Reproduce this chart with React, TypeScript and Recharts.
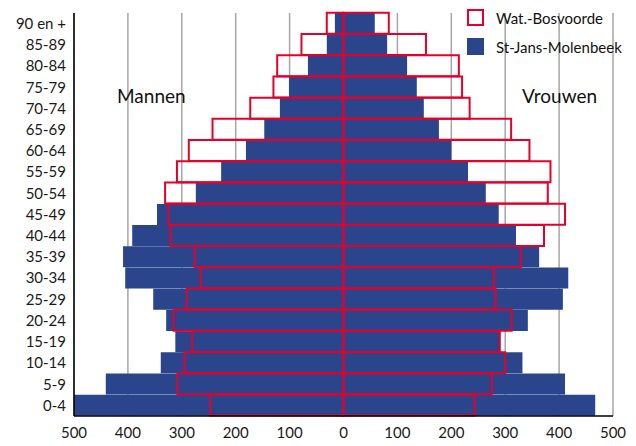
import React from 'react'
import { BarChart, Bar, XAxis, YAxis, CartesianGrid } from 'recharts'

// age groups, bottom to top
const ageGroups = [
  '0-4', '5-9', '10-14', '15-19', '20-24', '25-29', '30-34', '35-39', '40-44', '45-49',
  '50-54', '55-59', '60-64', '65-69', '70-74', '75-79', '80-84', '85-89', '90 en +',
]

const molenbeekMen = [500, 441, 339, 312, 329, 353, 405, 409, 392, 346, 274, 227, 181, 147, 118, 101, 66, 31, 16]
const molenbeekWomen = [467, 411, 332, 289, 342, 407, 417, 363, 320, 288, 264, 231, 200, 177, 149, 136, 118, 81, 58]
const bosvoordeMen = [247, 308, 295, 281, 315, 291, 265, 276, 321, 325, 331, 309, 287, 243, 173, 130, 123, 78, 31]
const bosvoordeWomen = [243, 275, 300, 290, 312, 282, 279, 329, 372, 411, 379, 384, 345, 311, 234, 220, 214, 153, 84]

const xTicks = [-500, -400, -300, -200, -100, 0, 100, 200, 300, 400, 500]

const BOSVOORDE = 'Wat.-Bosvoorde'
const MOLENBEEK = 'St-Jans-Molenbeek'
const BLUE = '#2B458C'
const RED = '#E4002B'
const FONT = 'Lato, "Open Sans", sans-serif'

const data = ageGroups.map((age, i) => ({
  age,
  molMen: -molenbeekMen[i],
  molWomen: molenbeekWomen[i],
  bosMen: -bosvoordeMen[i],
  bosWomen: bosvoordeWomen[i],
}))

const tickStyle = { fontFamily: FONT, fontSize: 15, fill: '#1a1a1a' }

const App: React.FC = () => {
  return (
    <div style={{ position: 'absolute', left: 0, top: 0, width: 636, height: 446, background: '#fff' }}>
      <BarChart
        width={636}
        height={446}
        data={data}
        layout="vertical"
        stackOffset="sign"
        barCategoryGap={0}
        barGap="-100%"
        margin={{ top: 13, right: 23, bottom: 0, left: 0 }}
      >
        <CartesianGrid horizontal={false} vertical stroke="#A6A6A6" strokeWidth={1.5} />
        <XAxis
          type="number"
          domain={[-500, 500]}
          ticks={xTicks}
          tickFormatter={(v: number) => String(Math.abs(v))}
          tickLine={false}
          tickMargin={5}
          axisLine={{ stroke: '#000', strokeWidth: 1.5 }}
          tick={tickStyle}
          height={30}
        />
        <YAxis
          type="category"
          dataKey="age"
          reversed
          width={74}
          tickLine={false}
          axisLine={{ stroke: '#000', strokeWidth: 1.5 }}
          tick={tickStyle}
          interval={0}
        />
        <Bar dataKey="molMen" stackId="mol" name={MOLENBEEK} fill={BLUE} isAnimationActive={false} />
        <Bar dataKey="molWomen" stackId="mol" name={MOLENBEEK} fill={BLUE} isAnimationActive={false} />
        <Bar dataKey="bosMen" stackId="bos" name={BOSVOORDE} fill="none" stroke={RED} strokeWidth={2} isAnimationActive={false} />
        <Bar dataKey="bosWomen" stackId="bos" name={BOSVOORDE} fill="none" stroke={RED} strokeWidth={2} isAnimationActive={false} />
      </BarChart>

      <div style={{ position: 'absolute', left: 117, top: 84, fontFamily: FONT, fontSize: 19, color: '#111' }}>Mannen</div>
      <div style={{ position: 'absolute', left: 522, top: 84, fontFamily: FONT, fontSize: 19, color: '#111' }}>Vrouwen</div>

      <div style={{ position: 'absolute', left: 467, top: 9, fontFamily: FONT, fontSize: 15, color: '#111' }}>
        <div style={{ display: 'flex', alignItems: 'center', height: 17 }}>
          <span style={{ width: 13, height: 13, border: `2px solid ${RED}`, display: 'inline-block', background: '#fff' }} />
          <span style={{ marginLeft: 12 }}>{BOSVOORDE}</span>
        </div>
        <div style={{ display: 'flex', alignItems: 'center', height: 17, marginTop: 12 }}>
          <span style={{ width: 17, height: 17, background: BLUE, display: 'inline-block' }} />
          <span style={{ marginLeft: 12 }}>{MOLENBEEK}</span>
        </div>
      </div>
    </div>
  )
}

export default App
